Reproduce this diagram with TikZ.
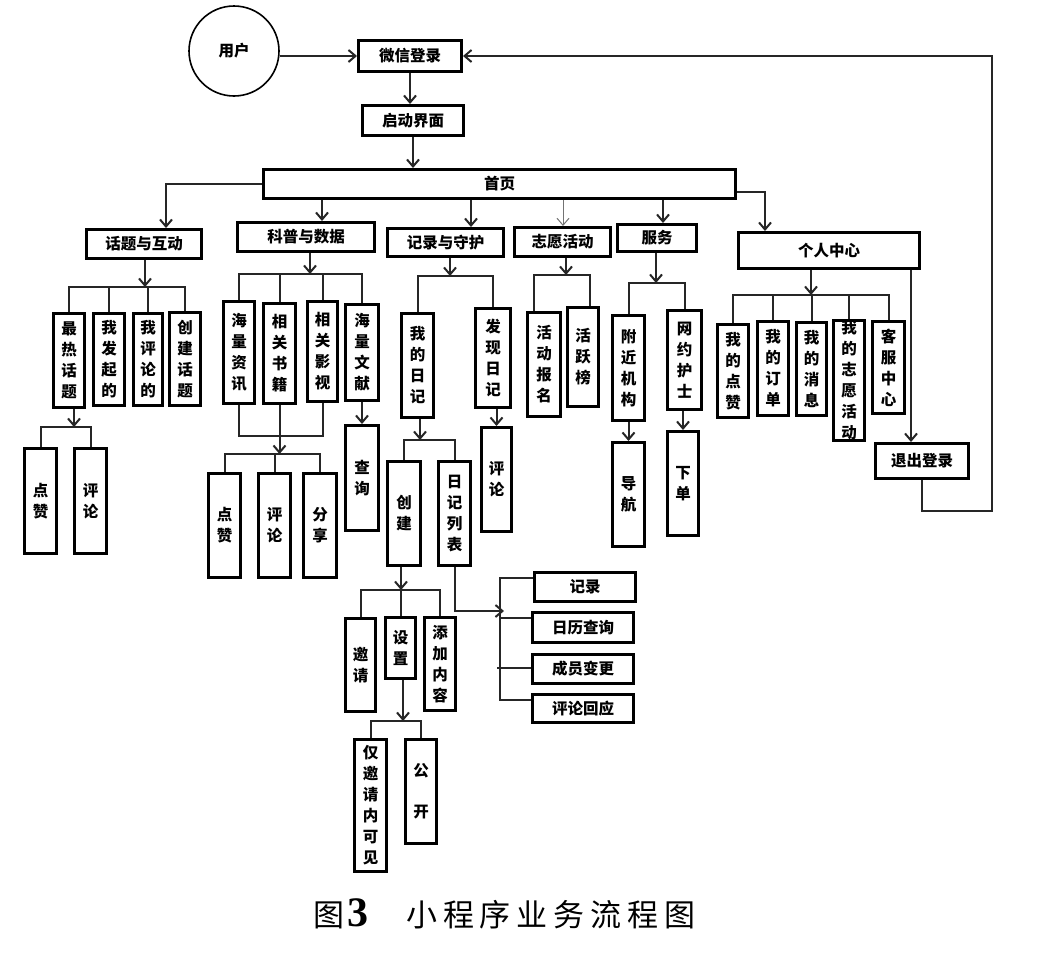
\documentclass[tikz,border=0pt]{standalone}
\usepackage{fontspec}
\setmainfont{Noto Sans CJK SC}
\newfontfamily\capfont{Noto Sans CJK SC}
\newfontfamily\capnum{Liberation Serif}
\usetikzlibrary{arrows.meta}
\newcommand\Bx[6]{\node[box, minimum width={#4pt-#2pt-2.6pt}, minimum height={#5pt-#3pt-2.6pt}] (#1) at ({(#2+#4)/2},{(#3+#5)/2}) {#6};}
\tikzset{
  box/.style={draw=black, line width=2.6pt, fill=white, inner sep=0pt, align=center,
              font=\bfseries\fontsize{15.5}{21}\selectfont},
  conn/.style={draw=black!85, line width=2pt},
  arr/.style={conn, -{Straight Barb[length=7pt,width=12pt]}},
}
\begin{document}
\begin{tikzpicture}[x=1pt,y=-1pt]
\useasboundingbox (0,0) rectangle (1038,972);
\fill[white] (0,0) rectangle (1038,972);

% top level
\node[draw, circle, line width=1.6pt, minimum size=90pt, inner sep=0pt,
      font=\bfseries\fontsize{15.5}{18}\selectfont] (user) at (234,51) {用户};
\Bx{wx}{357}{39}{463}{73}{微信登录}
\Bx{qd}{361}{104}{465}{137}{启动界面}
\Bx{sy}{262}{168}{737}{200}{首页}
\Bx{ht}{85}{228}{203}{260}{话题与互动}
\Bx{kp}{236}{221}{376}{253}{科普与数据}
\Bx{jl}{386}{227}{505}{258}{记录与守护}
\Bx{zy}{513}{226}{612}{258}{志愿活动}
\Bx{fw}{616}{223}{698}{253}{服务}
\Bx{gr}{737}{231}{921}{270}{个人中心}

% topics
\Bx{h1}{52}{312}{86}{409}{最\\热\\话\\题}
\Bx{h2}{92}{312}{126}{407}{我\\发\\起\\的}
\Bx{h3}{132}{312}{164}{407}{我\\评\\论\\的}
\Bx{h4}{168}{311}{202}{407}{创\\建\\话\\题}
\Bx{h1a}{23}{447}{58}{555}{点\\赞}
\Bx{h1b}{73}{447}{108}{555}{评\\论}

% science
\Bx{k1}{222}{300}{256}{405}{海\\量\\资\\讯}
\Bx{k2}{262}{302}{297}{405}{相\\关\\书\\籍}
\Bx{k3}{306}{300}{339}{403}{相\\关\\影\\视}
\Bx{k4}{344}{303}{380}{402}{海\\量\\文\\献}
\Bx{k5}{207}{472}{242}{579}{点\\赞}
\Bx{k6}{257}{472}{292}{579}{评\\论}
\Bx{k7}{302}{472}{338}{579}{分\\享}
\Bx{k8}{344}{424}{380}{532}{查\\询}

% record
\Bx{j1}{400}{312}{435}{419}{我\\的\\日\\记}
\Bx{j2}{474}{307}{512}{409}{发\\现\\日\\记}
\Bx{j3}{386}{460}{422}{567}{创\\建}
\Bx{j4}{437}{460}{472}{567}{日\\记\\列\\表}
\Bx{j5}{480}{426}{513}{533}{评\\论}
\Bx{j6}{344}{617}{377}{713}{邀\\请}
\Bx{j7}{384}{616}{417}{680}{设\\置}
\Bx{j8}{423}{616}{457}{712}{添\\加\\内\\容}
\Bx{j9}{353}{738}{388}{873}{仅\\邀\\请\\内\\可\\见}
\Bx{j10}{404}{738}{438}{845}{公\\[20pt]开}
\Bx{r1}{533}{571}{637}{603}{记录}
\Bx{r2}{531}{611}{635}{644}{日历查询}
\Bx{r3}{531}{653}{635}{685}{成员变更}
\Bx{r4}{531}{693}{635}{724}{评论回应}

% volunteer / service
\Bx{z1}{526}{311}{562}{418}{活\\动\\报\\名}
\Bx{z2}{566}{306}{600}{408}{活\\跃\\榜}
\Bx{f1}{611}{314}{646}{422}{附\\近\\机\\构}
\Bx{f2}{666}{309}{703}{411}{网\\约\\护\\士}
\Bx{f3}{611}{441}{646}{548}{导\\航}
\Bx{f4}{666}{430}{700}{537}{下\\单}

% personal
\Bx{g1}{716}{323}{750}{419}{我\\的\\点\\赞}
\Bx{g2}{756}{320}{790}{417}{我\\的\\订\\单}
\Bx{g3}{795}{321}{828}{417}{我\\的\\消\\息}
\Bx{g4}{832}{319}{866}{442}{我\\的\\志\\愿\\活\\动}
\Bx{g5}{871}{320}{906}{415}{客\\服\\中\\心}
\Bx{tc}{874}{442}{970}{480}{退出登录}

% ---- connectors ----
\draw[arr] (user.east |- wx.west) -- (wx.west);
\draw[arr] (wx.south) -- (wx.south |- qd.north);
\draw[arr] (qd.south) -- (qd.south |- sy.north);
\draw[arr] (sy.west) -| (166,0 |- ht.north);
\draw[arr] (322,0 |- sy.south) -- (322,0 |- kp.north);
\draw[arr] (471,0 |- sy.south) -- (471,0 |- jl.north);
\draw[arr, line width=1pt, draw=black!55] (563,0 |- sy.south) -- (563,0 |- zy.north);
\draw[arr] (663,0 |- sy.south) -- (663,0 |- fw.north);
\draw[arr] ([yshift=-8pt]sy.east) -| (765,0 |- gr.north);

% topics
\draw[conn] (h1.north) |- (h4.north |- 0,287) -- (h4.north);
\draw[conn] (h2.north) -- (h2.north |- 0,287);
\draw[conn] (h3.north) -- (h3.north |- 0,287);
\draw[arr] (145,0 |- ht.south) -- (145,287);
\draw[conn] (h1a.north) |- (h1b.north |- 0,427) -- (h1b.north);
\draw[arr] (74,0 |- h1.south) -- (74,427);

% science
\draw[conn] (k1.north) |- (k4.north |- 0,274) -- (k4.north);
\draw[conn] (k2.north) -- (k2.north |- 0,274);
\draw[conn] (k3.north) -- (k3.north |- 0,274);
\draw[arr] (310,0 |- kp.south) -- (310,274);
\draw[conn] (k1.south) |- (k3.south |- 0,436) -- (k3.south);
\draw[conn] (k5.north) |- (k7.north |- 0,454) -- (k7.north);
\draw[conn] (k6.north) -- (k6.north |- 0,454);
\draw[arr] (k2.south) -- (k2.south |- 0,454);
\draw[arr] (k4.south) -- (k8.north);

% record
\draw[conn] (j1.north) |- (j2.north |- 0,276) -- (j2.north);
\draw[arr] (450,0 |- jl.south) -- (450,276);
\draw[conn] (j3.north) |- (j4.north |- 0,440) -- (j4.north);
\draw[arr] (420,0 |- j1.south) -- (420,440);
\draw[arr] (j5.north |- j2.south) -- (j5.north);
\draw[conn] (j6.north) |- (j8.north |- 0,590) -- (j8.north);
\draw[conn] (j7.north) -- (j7.north |- 0,590);
\draw[arr] (401,0 |- j3.south) -- (401,590);
\draw[conn] (j9.north) |- (j10.north |- 0,721) -- (j10.north);
\draw[arr] (403,0 |- j7.south) -- (403,721);
\draw[conn] (r1.west |- 0,578) -| (500,700) -- (r4.west |- 0,700);
\draw[conn] (500,618) -- (r2.west |- 0,618);
\draw[conn] (497,668) -- (r3.west |- 0,668);
\draw[arr] (j4.south) |- (504,611);

% volunteer / service
\draw[conn] (534,0 |- z1.north) |- (590,275) -- (590,0 |- z2.north);
\draw[arr] (566,0 |- zy.south) -- (566,275);
\draw[conn] (f1.north) |- (f2.north |- 0,283) -- (f2.north);
\draw[arr] (656,0 |- fw.south) -- (656,283);
\draw[arr] (f1.south) -- (f3.north);
\draw[arr] (f4.north |- f2.south) -- (f4.north);

% personal
\draw[conn] (g1.north) |- (g5.north |- 0,295) -- (g5.north);
\draw[conn] (g2.north) -- (g2.north |- 0,295);
\draw[conn] (g3.north) -- (g3.north |- 0,295);
\draw[conn] (g4.north) -- (g4.north |- 0,295);
\draw[arr] (811,0 |- gr.south) -- (811,295);
\draw[arr] (911,0 |- gr.south) -- (911,0 |- tc.north);
\draw[arr] (tc.south) |- (992,511) |- (wx.east);

% caption
\node[anchor=west, inner sep=0pt] (cap) at (313,914)
  {{\capfont\fontsize{31}{36}\selectfont 图}\hspace{3pt}{\capnum\bfseries\fontsize{42}{44}\selectfont 3}\hspace{38pt}{\capfont\fontsize{31}{36}\selectfont\addfontfeature{LetterSpace=19}小程序业务流程图}};
\end{tikzpicture}
\end{document}
